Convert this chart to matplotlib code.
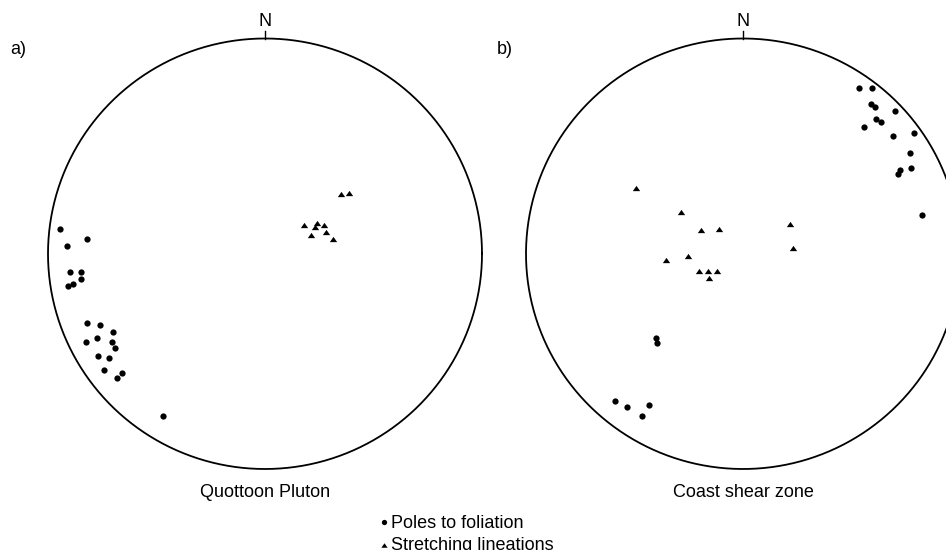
import numpy as np
import matplotlib
matplotlib.use("Agg")
import matplotlib.pyplot as plt

plt.rcParams['font.family'] = ['Liberation Sans', 'DejaVu Sans']

# Projected net coordinates (east, north) on a unit-radius stereonet
quottoon_poles_e = [-0.943, -0.914, -0.819, -0.897, -0.847, -0.849, -0.883, -0.908,
                    -0.820, -0.759, -0.699, -0.826, -0.774, -0.706, -0.693, -0.771,
                    -0.719, -0.742, -0.658, -0.681, -0.471]
quottoon_poles_n = [0.116, 0.037, 0.068, -0.083, -0.083, -0.116, -0.141, -0.149,
                    -0.321, -0.332, -0.364, -0.411, -0.391, -0.410, -0.439, -0.474,
                    -0.486, -0.541, -0.555, -0.577, -0.756]
quottoon_lin_e = [0.352, 0.386, 0.181, 0.241, 0.272, 0.232, 0.212, 0.282, 0.312]
quottoon_lin_n = [0.279, 0.282, 0.135, 0.144, 0.135, 0.123, 0.088, 0.099, 0.067]

coast_poles_e = [0.533, 0.596, 0.588, 0.607, 0.702, 0.614, 0.636, 0.559, 0.691, 0.787,
                 0.770, 0.774, 0.722, 0.716, 0.826, -0.400, -0.396, -0.591, -0.533,
                 -0.435, -0.464]
coast_poles_n = [0.769, 0.772, 0.697, 0.681, 0.663, 0.624, 0.613, 0.588, 0.549, 0.561,
                 0.467, 0.400, 0.391, 0.371, 0.182, -0.390, -0.413, -0.686, -0.714,
                 -0.702, -0.753]
coast_lin_e = [-0.493, -0.284, -0.192, -0.112, 0.218, 0.229, -0.356, -0.252, -0.201,
               -0.160, -0.120, -0.157]
coast_lin_n = [0.304, 0.193, 0.109, 0.113, 0.140, 0.029, -0.029, -0.012, -0.081,
               -0.081, -0.081, -0.113]

panel_letters = ['a)', 'b)']
panel_titles = ['Quottoon Pluton', 'Coast shear zone']
legend_labels = ['Poles to foliation', 'Stretching lineations']

W, H = 946, 550
fig = plt.figure(figsize=(W / 100, H / 100), dpi=100)

tri = [(-1, -0.72), (1, -0.72), (0, 0.72), (-1, -0.72)]

centers_x = [265, 743]
rx, top, bottom = 217, 38.5, 469
ry = (bottom - top) / 2
datasets = [(quottoon_poles_e, quottoon_poles_n, quottoon_lin_e, quottoon_lin_n),
            (coast_poles_e, coast_poles_n, coast_lin_e, coast_lin_n)]

th = np.linspace(0, 2 * np.pi, 721)
for i, cx in enumerate(centers_x):
    ax = fig.add_axes([(cx - rx) / W, (H - bottom) / H, 2 * rx / W, 2 * ry / H])
    ax.set_xlim(-1, 1)
    ax.set_ylim(-1, 1)
    ax.axis('off')
    ax.plot(np.cos(th), np.sin(th), color='black', lw=1.3, clip_on=False)
    ax.plot([0, 0], [1, 1 + 8 / ry], color='black', lw=1.0, clip_on=False)
    ax.text(0, 1 + 8.5 / ry, 'N', ha='center', va='bottom', fontsize=13)
    pe, pn, le, ln = datasets[i]
    ax.plot(pe, pn, 'o', color='black', ms=4.5, mec='none', clip_on=False)
    ax.plot(le, ln, ls='none', marker=tri, color='black', ms=5.3, mec='none', clip_on=False)
    ax.text(0, -1 - 15 / ry, panel_titles[i], ha='center', va='top', fontsize=13)

fig.text(18 / W, 1 - 49 / H, panel_letters[0], ha='center', va='center', fontsize=13)
fig.text(505 / W, 1 - 49 / H, panel_letters[1], ha='center', va='center', fontsize=13)

# legend
fig.text(391 / W, 1 - 524 / H, legend_labels[0], ha='left', va='center', fontsize=13)
fig.text(391 / W, 1 - 545 / H, legend_labels[1], ha='left', va='center', fontsize=13)
lax = fig.add_axes([0, 0, 1, 1])
lax.set_xlim(0, W)
lax.set_ylim(H, 0)
lax.axis('off')
lax.plot([384], [522], 'o', color='black', ms=3.8, mec='none')
lax.plot([384], [545], ls='none', marker=tri, color='black', ms=4.5, mec='none')

fig.savefig('out.png', dpi=100, facecolor='white')
